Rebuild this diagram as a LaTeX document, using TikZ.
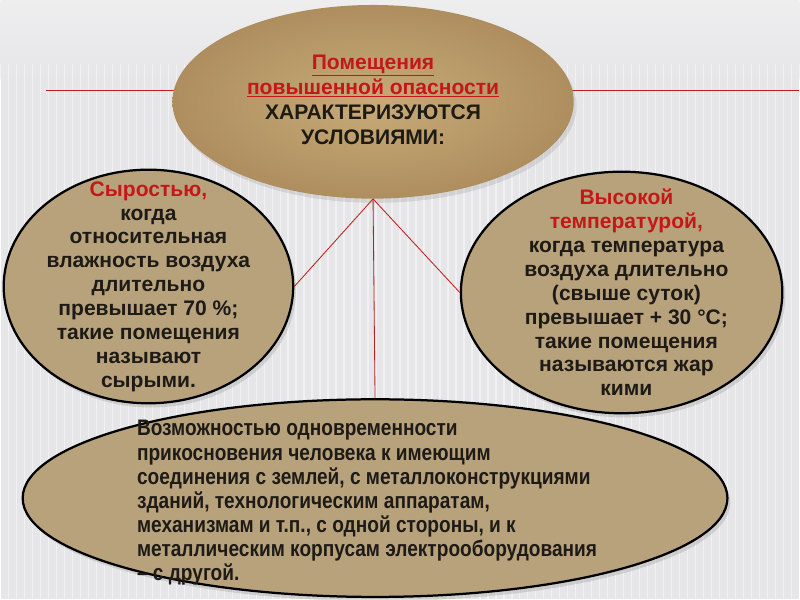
\documentclass[tikz,border=0pt]{standalone}
\usepackage{fontspec}
\setmainfont{Liberation Sans}
\newfontfamily\narrowfont[FakeStretch=0.85]{Liberation Sans}
\usetikzlibrary{shapes.geometric,shadows}
\definecolor{bubblefill}{RGB}{184,162,124}
\definecolor{goldin}{RGB}{200,170,120}
\definecolor{goldout}{RGB}{174,142,94}
\definecolor{redtxt}{RGB}{196,24,24}
\definecolor{redline}{RGB}{190,30,30}
\definecolor{ink}{RGB}{30,26,22}
\definecolor{bg}{RGB}{230,230,232}
\definecolor{bgtop}{RGB}{238,238,239}
\tikzset{
  bubble/.style={ellipse, draw=black, line width=1.6pt, fill=bubblefill, inner sep=0pt,
    drop shadow={opacity=0.25, shadow xshift=2pt, shadow yshift=-3pt}},
  txt/.style={align=center, text=ink, font=\bfseries\fontsize{15}{17}\selectfont},
  link/.style={redline, line width=0.6pt},
}
\begin{document}
\begin{tikzpicture}
	\fill[bg] (0,0) rectangle (20,15);
	\shade[top color=bgtop, bottom color=bg] (0,13) rectangle (20,15);
	\foreach \x in {0,0.2,...,20}
		\draw[white, opacity=0.45, line width=1pt] (\x,0) -- (\x,13.4);
	\useasboundingbox (0,0) rectangle (20,15);
	\draw[redline, line width=0.8pt] (1.125,12.725) -- (20,12.725);
	% ellipses
	\node[ellipse, inner sep=0pt, shade, inner color=goldin, outer color=goldout,
		minimum width=10.05cm, minimum height=4.85cm,
		drop shadow={opacity=0.2, shadow xshift=2pt, shadow yshift=-3pt}] (top) at (9.325,12.45) {};
	\node[bubble, minimum width=7.25cm, minimum height=5.85cm] (damp) at (3.7,7.825) {};
	\node[bubble, minimum width=8.05cm, minimum height=6.05cm] (heat) at (15.55,7.675) {};
	\node[bubble, minimum width=17.65cm, minimum height=4.95cm] (touch) at (9.375,2.525) {};
	% connectors
	\draw[link] (top.south) -- (damp.east);
	\draw[link] (top.south) -- (heat.west);
	\draw[link] (top.south) -- (touch.north);
	% texts
	\node[txt, font=\bfseries\fontsize{15}{18}\selectfont] (toptxt) at ([yshift=0.05cm]top.center)
		{\textcolor{redtxt}{\underline{Помещения}}\\
		\textcolor{redtxt}{\underline{повышенной опасности}}\\
		ХАРАКТЕРИЗУЮТСЯ\\ УСЛОВИЯМИ:};
	\node[txt] (damptxt) at (damp.center) {\textcolor{redtxt}{Сыростью,}\\ когда\\
		относительная\\ влажность воздуха\\ длительно\\ превышает 70~\%;\\
		такие помещения\\ называют\\ сырыми.};
	\node[txt] (heattxt) at ([xshift=0.12cm]heat.center) {\textcolor{redtxt}{Высокой}\\
		\textcolor{redtxt}{температурой,}\\ когда температура\\ воздуха длительно\\
		(свыше суток)\\ превышает + 30 °C;\\ такие помещения\\ называются жар\\ кими};
	\node[txt, align=left, font=\narrowfont\bfseries\fontsize{16}{17.2}\selectfont] (touchtxt)
		at ([xshift=-0.2cm,yshift=-0.12cm]touch.center)
		{Возможностью одновременности\\ прикосновения человека к имеющим\\
		соединения с землей, с металлоконструкциями\\ зданий, технологическим аппаратам,\\
		механизмам и т.п., с одной стороны, и к\\ металлическим корпусам электрооборудования\\
		– с другой.};
\end{tikzpicture}
\end{document}
